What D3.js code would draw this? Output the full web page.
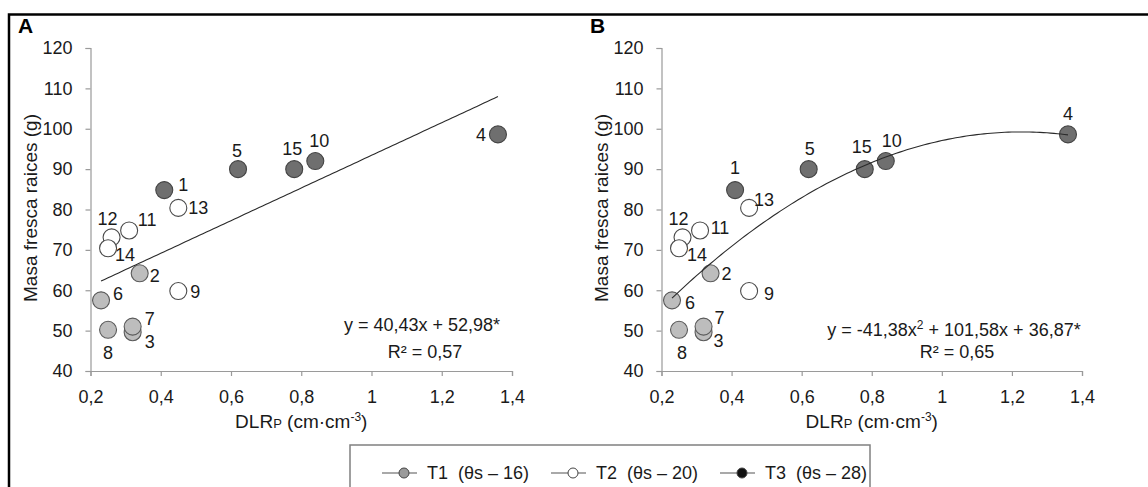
<!DOCTYPE html>
<html>
<head>
<meta charset="utf-8">
<script src="https://cdn.jsdelivr.net/npm/d3@7"></script>
<style>
  html, body { margin: 0; padding: 0; background: #fff; }
  svg { display: block; font-family: "Liberation Sans", Arial, sans-serif; }
</style>
</head>
<body>
<svg id="chart" width="1148" height="487"></svg>
<script>
// Plot identifiers, treatments and measured values
const pointIds  = [1, 2, 3, 4, 5, 6, 7, 8, 9, 10, 11, 12, 13, 14, 15];
const treatment = ["T3","T1","T1","T3","T3","T1","T1","T1","T2","T3","T2","T2","T2","T2","T3"];
const dlrP      = [0.41, 0.34, 0.32, 1.36, 0.62, 0.23, 0.32, 0.25, 0.45, 0.84, 0.31, 0.26, 0.45, 0.25, 0.78];
const masaRaiz  = [84.8, 64.2, 49.6, 98.6, 90.0, 57.5, 51.0, 50.2, 59.8, 92.0, 74.8, 73.1, 80.4, 70.4, 90.0];

// Axis ticks
const xTicks = [0.2, 0.4, 0.6, 0.8, 1.0, 1.2, 1.4];
const yTicks = [40, 50, 60, 70, 80, 90, 100, 110, 120];

// Fitted models
const linearCoef = { a: 40.43, b: 52.98 };               // y = a x + b
const quadCoef   = { a: -41.38, b: 101.58, c: 36.87 };   // y = a x^2 + b x + c
const fitRange   = [0.23, 1.36];

// Treatment legend
const legendKeys   = ["T1", "T2", "T3"];
const legendLabels = ["T1  (θs – 16)", "T2  (θs – 20)", "T3  (θs – 28)"];

// Styling per treatment
const fillByT   = { T1: "#bdbdbd", T2: "#ffffff", T3: "#6f6f6f" };
const strokeByT = { T1: "#5a5a5a", T2: "#4a4a4a", T3: "#444444" };
const legendFill = { T1: "#9a9a9a", T2: "#ffffff", T3: "#111111" };

// Label offsets (px) next to each marker, for panel A and panel B
const labelOffA = [[19,-6],[15,2],[17,9],[-17,0],[-1,-19],[17,-7],[17,-8],[0,23],[17,0],[4,-21],[18,-11],[-4,-19],[20,0],[17,6],[-2,-21]];
const labelOffB = [[0,-23],[16,0],[15,8],[0,-21],[1,-21],[18,2],[16,-9],[3,23],[20,2],[6,-21],[20,-3],[-4,-19],[15,-8],[18,6],[-3,-23]];

const svg = d3.select("#chart");
const FS = 18;

// Outer frame (open on right and bottom edges)
svg.append("path")
  .attr("d", "M1148,14.5 H9 V487")
  .attr("fill", "none").attr("stroke", "#000").attr("stroke-width", 2.5);

const points = pointIds.map((id, i) => ({ id, t: treatment[i], x: dlrP[i], y: masaRaiz[i], i }));

function drawPanel(cfg) {
  const g = svg.append("g");
  const x = d3.scaleLinear().domain([0.2, 1.4]).range([cfg.x0, cfg.x1]);
  const y = d3.scaleLinear().domain([40, 120]).range([371, 48]);

  // Axes
  const yAxis = g.append("g").attr("transform", `translate(${cfg.x0},0)`)
    .call(d3.axisLeft(y).tickValues(yTicks).tickSize(5).tickPadding(13).tickFormat(d3.format("d")));
  const xAxis = g.append("g").attr("transform", `translate(0,371)`)
    .call(d3.axisBottom(x).tickValues(xTicks).tickSize(5).tickPadding(14)
      .tickFormat(d => d === 1 ? "1" : String(d).replace(".", ",")));
  [yAxis, xAxis].forEach(a => {
    a.selectAll("path.domain").attr("stroke", "#9a9a9a").attr("stroke-width", 1.2);
    a.selectAll(".tick line").attr("stroke", "#9a9a9a").attr("stroke-width", 1.2);
    a.selectAll(".tick text").attr("fill", "#1a1a1a").attr("font-size", FS)
      .attr("font-family", "'Liberation Sans', Arial, sans-serif");
  });

  // Markers
  g.selectAll("circle.pt").data(points).join("circle")
    .attr("class", "pt")
    .attr("cx", d => x(d.x)).attr("cy", d => y(d.y)).attr("r", 8.5)
    .attr("fill", d => fillByT[d.t]).attr("stroke", d => strokeByT[d.t]).attr("stroke-width", 1.1);

  // Point labels
  g.selectAll("text.pl").data(points).join("text")
    .attr("class", "pl")
    .attr("x", d => x(d.x) + cfg.off[d.i][0])
    .attr("y", d => y(d.y) + cfg.off[d.i][1])
    .attr("dy", "0.36em").attr("text-anchor", "middle")
    .attr("font-size", FS).attr("fill", "#1a1a1a")
    .text(d => d.id);

  // Fitted curve
  const xs = d3.range(fitRange[0], fitRange[1] + 1e-9, 0.01);
  g.append("path")
    .datum(xs)
    .attr("fill", "none").attr("stroke", "#2a2a2a").attr("stroke-width", 1.1)
    .attr("d", d3.line().x(v => x(v)).y(v => y(cfg.model(v))));

  // Equation and R²
  const eq = g.append("text").attr("x", cfg.eqX).attr("y", cfg.eqY).attr("text-anchor", "middle")
    .attr("font-size", FS).attr("fill", "#1a1a1a");
  cfg.eqParts.forEach(p => {
    const s = eq.append("tspan").text(p.t);
    if (p.sup) s.attr("baseline-shift", "super").attr("font-size", 12);
  });
  g.append("text").attr("x", cfg.eqX + 3).attr("y", 358).attr("text-anchor", "middle")
    .attr("font-size", FS).attr("fill", "#1a1a1a").text(cfg.r2);

  // Axis titles
  const xt = g.append("text").attr("x", (cfg.x0 + cfg.x1) / 2).attr("y", 428)
    .attr("text-anchor", "middle").attr("font-size", 19).attr("fill", "#1a1a1a");
  xt.append("tspan").text("DLR");
  xt.append("tspan").attr("font-size", 13).text("P");
  xt.append("tspan").text(" (cm·cm");
  xt.append("tspan").attr("font-size", 12).attr("baseline-shift", "super").text("-3");
  xt.append("tspan").text(")");

  g.append("text")
    .attr("transform", `translate(${cfg.yTitleX},208) rotate(-90)`)
    .attr("text-anchor", "middle").attr("font-size", 19).attr("fill", "#1a1a1a")
    .text("Masa fresca raices (g)");

  // Panel letter
  g.append("text").attr("x", cfg.letterX).attr("y", 33)
    .attr("font-size", 21).attr("font-weight", "bold").attr("fill", "#000").text(cfg.letter);
}

drawPanel({
  letter: "A", letterX: 18, x0: 90.5, x1: 512, yTitleX: 37, off: labelOffA,
  model: v => linearCoef.a * v + linearCoef.b,
  eqX: 422, eqY: 331,
  eqParts: [{ t: "y = 40,43x + 52,98*" }],
  r2: "R² = 0,57"
});

drawPanel({
  letter: "B", letterX: 590, x0: 661.5, x1: 1082, yTitleX: 608, off: labelOffB,
  model: v => quadCoef.a * v * v + quadCoef.b * v + quadCoef.c,
  eqX: 954, eqY: 336,
  eqParts: [{ t: "y = -41,38x" }, { t: "2", sup: true }, { t: "  + 101,58x  + 36,87*" }],
  r2: "R² = 0,65"
});

// Legend
const lg = svg.append("g");
lg.append("rect").attr("x", 350).attr("y", 445).attr("width", 520).attr("height", 60)
  .attr("fill", "#fff").attr("stroke", "#808080").attr("stroke-width", 1.5);
const legendX = d3.scalePoint().domain(legendKeys).range([382, 720]);
legendKeys.forEach((k, i) => {
  const lx = legendX(k);
  lg.append("line").attr("x1", lx).attr("x2", lx + 35).attr("y1", 473).attr("y2", 473)
    .attr("stroke", "#555").attr("stroke-width", 1.2);
  lg.append("circle").attr("cx", lx + 22).attr("cy", 473).attr("r", 5)
    .attr("fill", legendFill[k]).attr("stroke", "#444").attr("stroke-width", 1);
  lg.append("text").attr("x", lx + 45).attr("y", 473).attr("dy", "0.36em")
    .attr("font-size", 18).attr("fill", "#1a1a1a").attr("xml:space", "preserve")
    .style("white-space", "pre").text(legendLabels[i]);
});
</script>
</body>
</html>
